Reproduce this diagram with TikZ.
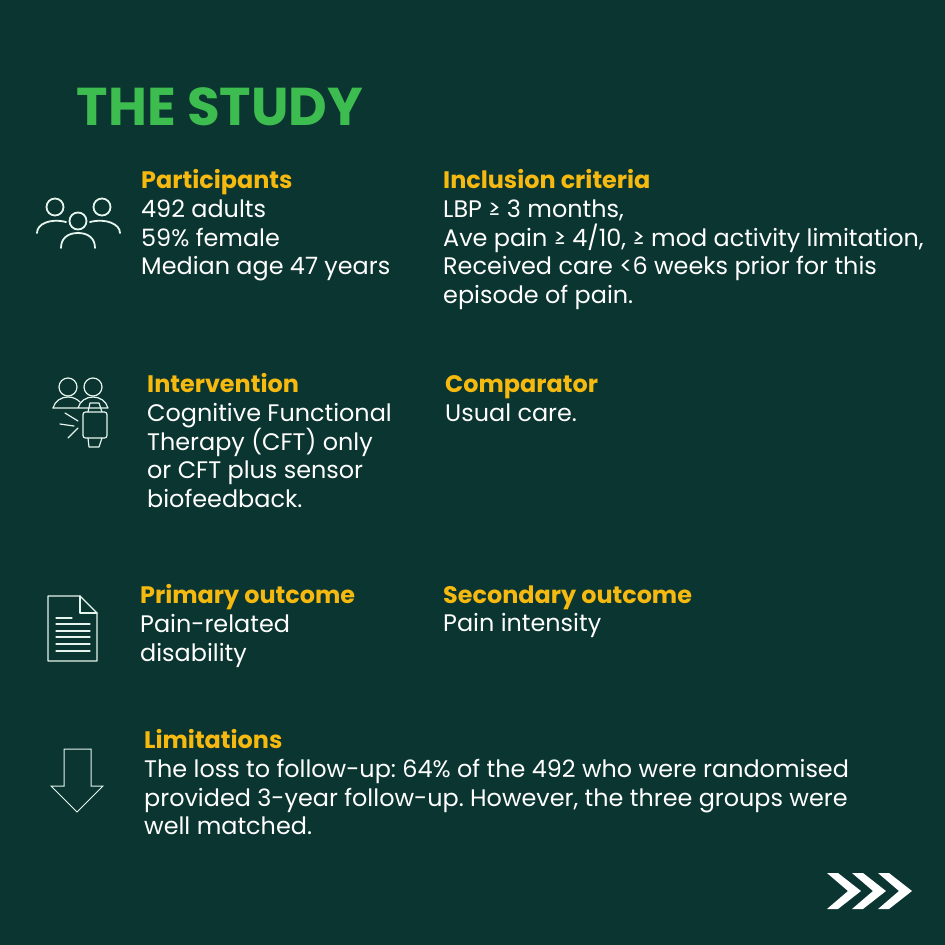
\documentclass[tikz,border=0pt]{standalone}
\usepackage{fontspec}
\setmainfont{Poppins}
\definecolor{bgdark}{HTML}{0B3530}
\definecolor{titlegreen}{HTML}{3DBD4F}
\definecolor{headyellow}{HTML}{F6B90F}
\definecolor{iconline}{HTML}{E6F4EE}
\lineskiplimit=-20pt
\frenchspacing
\newcommand{\hd}[1]{{\bfseries\color{headyellow}#1}}
\tikzset{
  block/.style={anchor=north west, inner sep=0pt, align=left, text=white,
    font=\fontsize{23.9}{28.6}\selectfont},
  icon/.style={draw=iconline, line width=1.8pt, line join=round, line cap=round},
  thin icon/.style={icon, line width=1.2pt},
}
\begin{document}
\begin{tikzpicture}[x=1pt, y=-1pt]
    \fill[bgdark] (0,0) rectangle (945,945);
    \useasboundingbox (0,0) rectangle (945,945);

    \node[anchor=base west, inner sep=0pt, text=titlegreen, font=\fontsize{53.2}{60}\bfseries\selectfont] (title) at (76.5,125) {THE STUDY};

    \node[block] (participants) at (141,169.5) {\hd{Participants}\\492 adults\\59\% female\\Median age 47 years};
    \node[block] (inclusion) at (443,169.5) {\hd{Inclusion criteria}\\LBP ≥ 3 months,\\Ave pain ≥ 4/10, ≥ mod activity limitation,\\Received care <6 weeks prior for this\\episode of pain.};
    \node[block] (intervention) at (147,373.5) {\hd{Intervention}\\Cognitive Functional\\Therapy (CFT) only\\or CFT plus sensor\\biofeedback.};
    \node[block] (comparator) at (445,375.5) {\hd{Comparator}\\Usual care.};
    \node[block] (primary) at (140,584.5) {\hd{Primary outcome}\\Pain-related\\disability};
    \node[block] (secondary) at (443,585.5) {\hd{Secondary outcome}\\Pain intensity};
    \node[block] (limitations) at (144,729.5) {\hd{Limitations}\\The loss to follow-up: 64\% of the 492 who were randomised\\provided 3-year follow-up. However, the three groups were\\well matched.};

    % people
    \draw[icon] (55,207) circle (8.5) (102,207) circle (8.5) (78,221) circle (8.5);
    \draw[icon] (37,233) .. controls (37,224) and (50,218) .. (66,222);
    \draw[icon] (120,233) .. controls (120,224) and (106,218) .. (90,222);
    \draw[icon] (61,248) .. controls (61,238) and (68,233) .. (78,233) .. controls (88,233) and (95,238) .. (95,248);

    % people and watch
    \draw[thin icon] (68,387) circle (9) (93,387) circle (9);
    \draw[thin icon] (53,408) .. controls (55,401) and (61,397) .. (68,397) .. controls (73,397) and (77,399) .. (80,402);
    \draw[thin icon] (78,408) .. controls (80,401) and (86,397) .. (93,397) .. controls (100,397) and (106,401) .. (108,408) -- (53,408);
    \draw[thin icon, rounded corners=2.5pt] (83,412) rectangle (107,438);
    \draw[thin icon] (88,412) -- (90,403) -- (99,403) -- (102,412);
    \draw[thin icon] (88,438) -- (89,447) -- (99,447) -- (102,438);
    \draw[thin icon] (65,413) -- (78,421) (60,424) -- (74,426) (68,438) -- (78,428);

    % document
    \draw[thin icon] (48,596) -- (80,596) -- (97,613) -- (97,661) -- (48,661) -- cycle;
    \draw[thin icon] (80,596) -- (80,613) -- (97,613);
    \draw[thin icon] (56,618) -- (72,618);
    \foreach \y in {624,631,637,644,651}
      \draw[thin icon] (56,\y) -- (90,\y);

    % down arrow
    \draw[draw=iconline, line width=1pt, line join=miter] (64,749) -- (91,749) -- (91,786) -- (103,786) -- (77,812) -- (51,786) -- (64,786) -- cycle;

    % next page chevrons
    \foreach \dx in {0,25,51}
      \fill[white, xshift=\dx pt] (827,873) -- (838,873) -- (861,891) -- (838,909) -- (827,909) -- (848,891) -- cycle;
\end{tikzpicture}
\end{document}
